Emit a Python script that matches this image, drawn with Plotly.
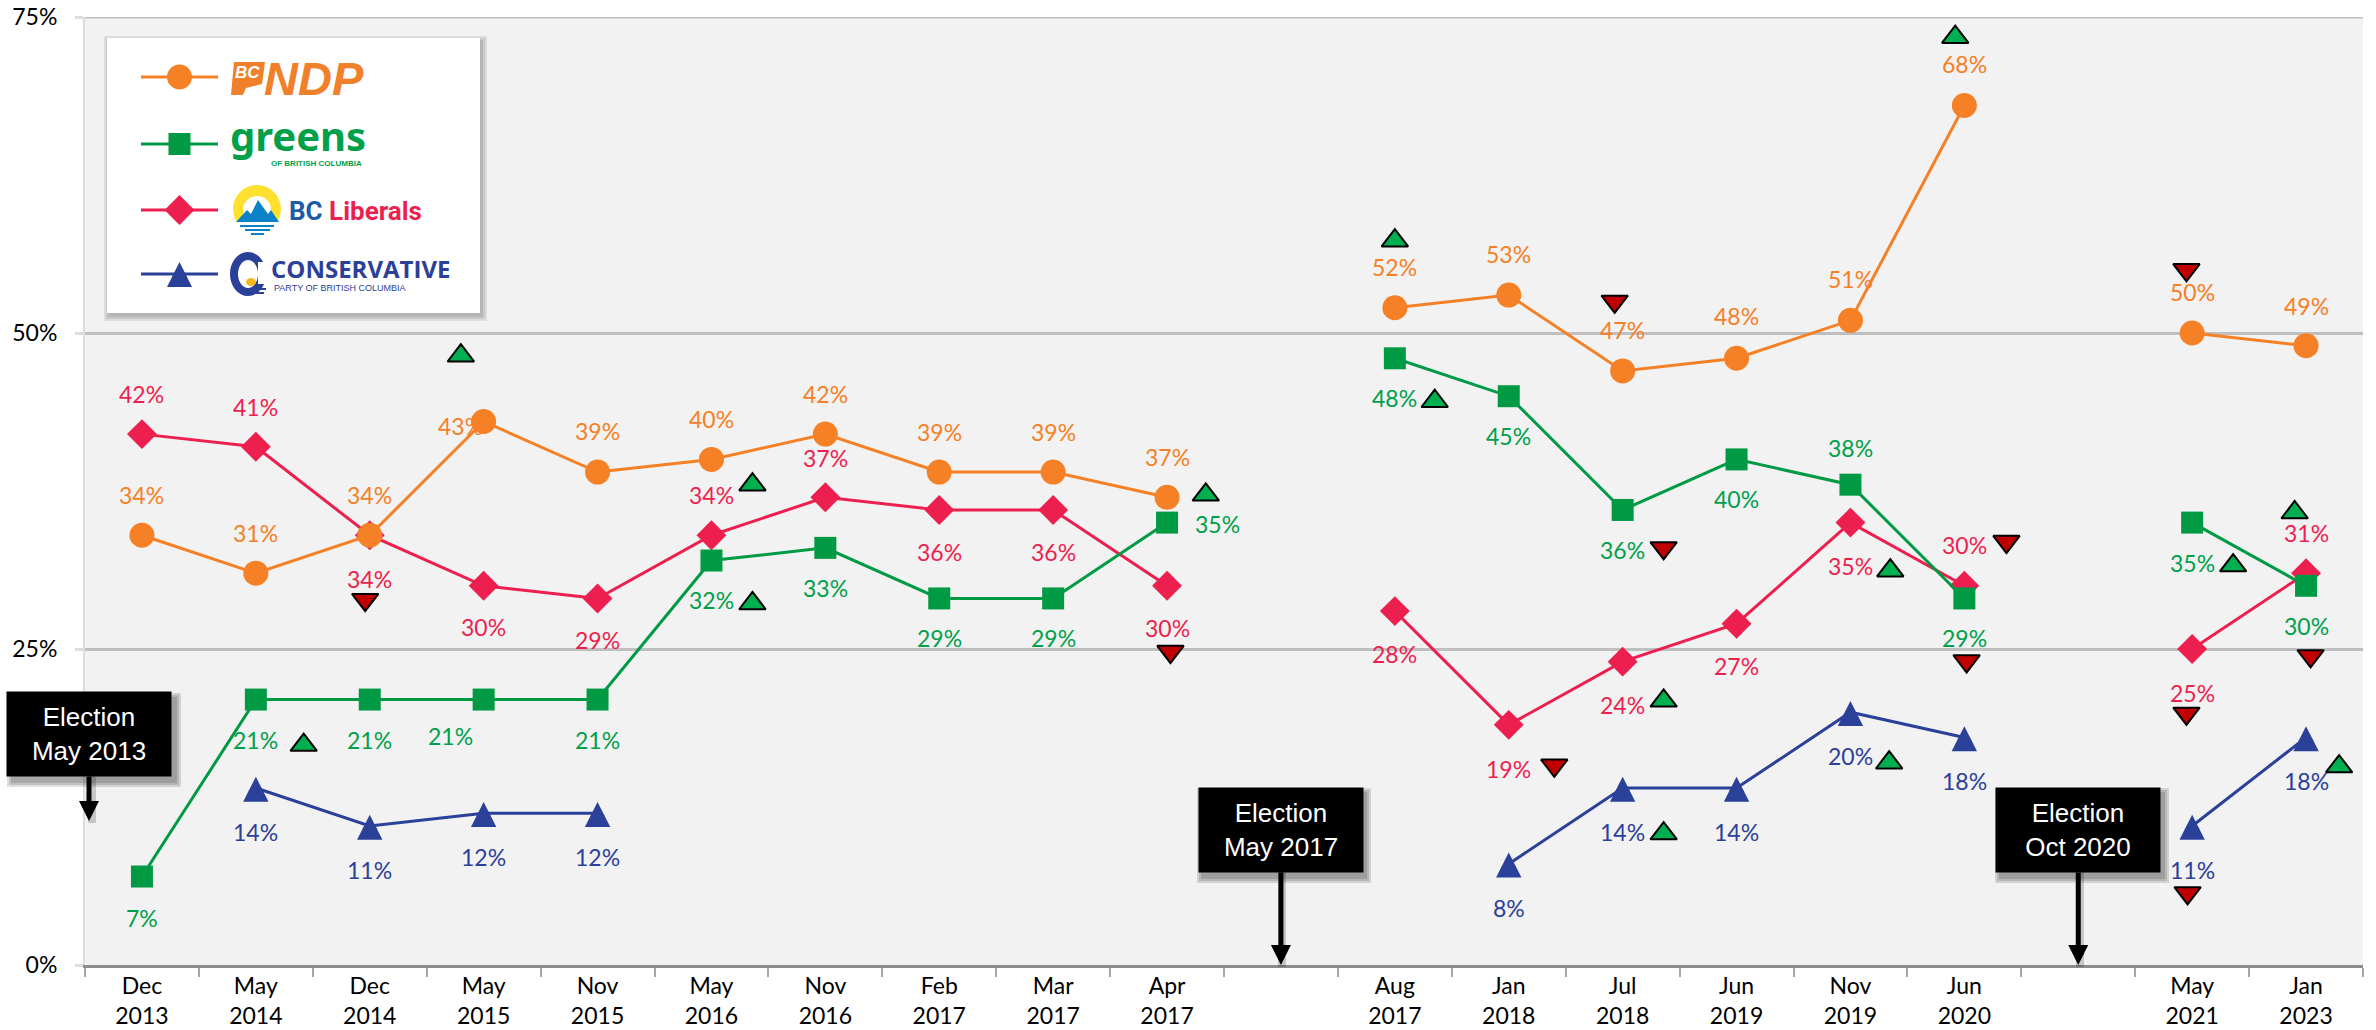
import plotly.graph_objects as go

# ---------- data ----------
categories = ["Dec<br>2013", "May<br>2014", "Dec<br>2014", "May<br>2015", "Nov<br>2015", "May<br>2016",
              "Nov<br>2016", "Feb<br>2017", "Mar<br>2017", "Apr<br>2017", "", "Aug<br>2017", "Jan<br>2018",
              "Jul<br>2018", "Jun<br>2019", "Nov<br>2019", "Jun<br>2020", "", "May<br>2021", "Jan<br>2023"]
ndp = [34, 31, 34, 43, 39, 40, 42, 39, 39, 37, None, 52, 53, 47, 48, 51, 68, None, 50, 49]
greens = [7, 21, 21, 21, 21, 32, 33, 29, 29, 35, None, 48, 45, 36, 40, 38, 29, None, 35, 30]
liberals = [42, 41, 34, 30, 29, 34, 37, 36, 36, 30, None, 28, 19, 24, 27, 35, 30, None, 25, 31]
conservative = [None, 14, 11, 12, 12, None, None, None, None, None, None, None, 8, 14, 14, 20, 18, None, 11, 18]

# label offsets from their point, in pixels
ndp_dx = [0, 0, 0, -23] + [0] * 16
ndp_dy = [40, 40, 40, -5, 41, 40, 40, 40, 40, 40, 0, 41, 41, 41, 42, 41, 41, 0, 41, 40]
greens_dx = [0, 0, 0, -33, 0, 0, 0, 0, 0, 50] + [0] * 10
greens_dy = [-41, -40, -40, -36, -40, -39, -40, -40, -40, -1, 0, -40, -40, -40, -40, 37, -40, 0, -40, -40]
liberals_dy = [40, 40, -44, -41, -42, 40, 39, -42, -42, -42, 0, -43, -44, -43, -42, -43, 41, 0, -44, 40]
conservative_dy = [-44] * 20

# poll-over-poll change indicators (category position, percent)
up_x = [1.42, 2.80, 5.36, 5.36, 9.34, 11.0, 11.35, 13.36, 15.35, 13.36, 15.34, 19.29, 15.92, 18.36, 18.90]
up_y = [17.4, 48.2, 38.0, 28.6, 37.2, 57.3, 44.6, 20.9, 31.2, 10.4, 16.0, 15.7, 73.4, 31.6, 35.8]
down_x = [1.96, 9.03, 12.93, 13.36, 12.40, 16.02, 16.37, 17.95, 17.95, 19.04, 17.96]
down_y = [28.9, 24.8, 52.5, 33.0, 15.8, 24.05, 33.5, 55.0, 19.9, 24.45, 5.7]

elections = ["Election<br>May 2013", "Election<br>May 2017", "Election<br>Oct 2020"]
election_x = [-0.465, 10, 17]
election_y = [11.4, 0, 0]
election_ay = [-87, -135, -135]

ORANGE, GREEN, RED, BLUE = "#F58026", "#009A44", "#ED1F4F", "#2B4098"
W, H, L, R, T, B = 2376, 1030, 85, 13, 17, 65
FONT = "Lato"
px = lambda X: (X - L) / (W - L - R)
py = lambda Y: (H - B - Y) / (H - T - B)
xs = list(range(len(categories)))

fig = go.Figure()
series = [
    ("Conservative Party of British Columbia", conservative, BLUE, "triangle-up", 13),
    ("BC Liberals", liberals, RED, "diamond", 23),
    ("Greens of British Columbia", greens, GREEN, "square", 22),
    ("BC NDP", ndp, ORANGE, "circle", 25),
]
for name, vals, col, sym, size in series:
    fig.add_trace(go.Scatter(x=xs, y=vals, mode="lines+markers", name=name, connectgaps=False, showlegend=False,
                             line=dict(color=col, width=3),
                             marker=dict(symbol=sym, size=size, color=col)))
fig.add_trace(go.Scatter(x=up_x, y=up_y, mode="markers", showlegend=False,
                         marker=dict(symbol="triangle-up", size=23, color="#00B050",
                                     line=dict(color="black", width=2))))
fig.add_trace(go.Scatter(x=down_x, y=down_y, mode="markers", showlegend=False,
                         marker=dict(symbol="triangle-down", size=23, color="#C00000",
                                     line=dict(color="black", width=2))))

# legend keys, drawn at full marker size on a hidden pixel-scaled overlay axis
key_y = [274, 210, 144, 77]
for (name, vals, col, sym, size), ky in zip(series, key_y):
    fig.add_trace(go.Scatter(x=[141, 179.5, 218], y=[ky, ky, ky], xaxis="x2", yaxis="y2", mode="lines+markers",
                             showlegend=False, name=name + " (key)", line=dict(color=col, width=3),
                             marker=dict(symbol=sym, size=[0, size, 0], color=col, opacity=1, line=dict(width=0))))

ann = []
def labels(vals, col, dxs, dys):
    for i, v in enumerate(vals):
        if v is None:
            continue
        ann.append(dict(x=i, y=v, xref="x", yref="y", text=f"{v}%", showarrow=False, xshift=dxs[i], yshift=dys[i],
                        xanchor="center", yanchor="middle", font=dict(family=FONT, size=23, color=col)))
labels(liberals, RED, [0] * 20, liberals_dy)
labels(conservative, BLUE, [0] * 20, conservative_dy)
labels(greens, "#00A04A", greens_dx, greens_dy)
labels(ndp, ORANGE, ndp_dx, ndp_dy)

# election callouts
for t, x, y, ay in zip(elections, election_x, election_y, election_ay):
    ann.append(dict(x=x, y=y, xref="x", yref="y", text=t, showarrow=True, ax=0, ay=ay, axref="pixel", ayref="pixel",
                    arrowhead=2, arrowsize=0.8, arrowwidth=5, arrowcolor="black", bgcolor="black", width=164, height=84,
                    borderpad=0, font=dict(family="Liberation Sans", size=26, color="white"), align="center"))

def logo_text(text, X, Y, size, color, family="Liberation Sans", anchor="left", **kw):
    ann.append(dict(x=px(X), y=py(Y), xref="paper", yref="paper", text=text, showarrow=False, xanchor=anchor,
                    yanchor="middle", font=dict(family=family, size=size, color=color), **kw))

logo_text("<b><i>NDP</i></b>", 262, 79, 47, "#F0802A")
logo_text("<b><i>BC</i></b>", 247, 72, 17, "white", anchor="center")
logo_text("<b>greens</b>", 228, 135, 40, "#00A04A", family="Noto Sans")
logo_text("<b>OF BRITISH COLUMBIA</b>", 316, 163, 8, "#00A04A", anchor="center")
logo_text("<b><span style='color:#1A5CA8'>BC</span> Liberals</b>", 287, 211, 26, RED, family="Roboto")
logo_text("<b>CONSERVATIVE</b>", 269, 268, 24, BLUE, family="Open Sans")
logo_text("PARTY OF BRITISH COLUMBIA", 272, 288, 9, BLUE)

# decorative panels and logo shapes
shapes = []
def rect(x0, y0, x1, y1, fill, layer="above"):
    shapes.append(dict(type="rect", xref="paper", yref="paper", x0=px(x0), x1=px(x1), y0=py(y0), y1=py(y1),
                       fillcolor=fill, line=dict(width=0), layer=layer))
def circle(x0, y0, x1, y1, fill, line=None, lw=0):
    shapes.append(dict(type="circle", xref="paper", yref="paper", x0=px(x0), x1=px(x1), y0=py(y0), y1=py(y1),
                       fillcolor=fill, line=dict(width=lw, color=line or fill), layer="above"))
def poly(points, fill=None, line=None, lw=0):
    path = "M" + " L".join(f"{px(a):.5f},{py(b):.5f}" for a, b in points)
    shapes.append(dict(type="path", xref="paper", yref="paper", path=path + (" Z" if fill else ""),
                       fillcolor=fill or "rgba(0,0,0,0)", line=dict(width=lw, color=line or "rgba(0,0,0,0)"), layer="above"))
def shadow(x0, y0, x1, y1, dx=5, dy=6, alpha=0.13, layer="above"):
    for g in (5, 3, 1):
        rect(x0 + dx - g, y0 + dy - g, x1 + dx + g, y1 + dy + g, f"rgba(0,0,0,{alpha})", layer=layer)

# top gridline, which sits on the end of the axis
shapes.append(dict(type="line", xref="paper", yref="y", x0=0, x1=1, y0=75, y1=75,
                   line=dict(color="#BFBFBF", width=3), layer="between"))

shadow(107, 38, 480, 313, dx=2, dy=3, alpha=0.09, layer="between")
rect(107, 38, 480, 313, "white", layer="between")
for x0, y0, x1, y1 in [(7, 692, 171, 776), (1197, 787, 1361, 872), (1995, 787, 2159, 872)]:
    shadow(x0, y0, x1, y1)
for x, y0, y1 in [(89, 776, 821), (1279, 872, 965), (2077, 872, 965)]:
    rect(x - 1, y0, x + 7, y1 + 2, "rgba(0,0,0,0.18)")

# taller triangle outline for the Conservative points, anchored to the data through the axes
for i, v in enumerate(conservative):
    if v is not None:
        shapes.append(dict(type="path", xref="x", yref="y", xsizemode="pixel", ysizemode="pixel", xanchor=i, yanchor=v,
                           path="M-12.7,-13.7 L12.7,-13.7 L0,11.3 Z", fillcolor=BLUE, line=dict(width=0), layer="above"))
poly([(167, 287), (192, 287), (179.5, 262)], fill=BLUE)

# NDP logo block
poly([(234, 62), (265, 62), (262, 84), (246, 88), (243, 95), (231, 95)], fill="#F0802A")
# BC Liberals logo
circle(233, 185, 281, 233, "#FFE02E")
circle(243, 196, 271, 224, "white")
poly([(236, 222), (247, 210), (251, 214), (258, 200), (268, 214), (271, 210), (279, 222)], fill="#0A82C8")
rect(233, 222, 281, 236, "white")
for y, a, b in [(226, 240, 274), (230, 245, 270), (234, 251, 264)]:
    poly([(a, y), (b, y)], line="#0A82C8", lw=2)
# Conservative logo
circle(234, 256, 262, 292, "rgba(0,0,0,0)", line=BLUE, lw=8)
rect(258, 262, 268, 284, "white")
circle(246, 278, 256, 286, "#F5B81F")
for y, a, b in [(289, 238, 266), (293, 242, 264)]:
    poly([(a, y), (b, y)], line=BLUE, lw=2)

fig.update_layout(
    width=W, height=H, margin=dict(l=L, r=R, t=T, b=B, pad=0), showlegend=False,
    paper_bgcolor="white", plot_bgcolor="#F2F2F2",
    font=dict(family=FONT, size=23, color="black"),
    annotations=ann, shapes=shapes, hovermode=False,
    xaxis=dict(range=[-0.5, 19.5], tickmode="array", tickvals=xs, ticktext=categories, ticks="", showgrid=False, automargin=False,
               zeroline=False, showline=True, linecolor="#8C8C8C", linewidth=3, tickangle=0, ticklabelstandoff=-2,
               tickfont=dict(family=FONT, size=23, color="black"),
               minor=dict(tickmode="array", tickvals=[i - 0.5 for i in range(21)], ticks="outside", ticklen=9,
                          tickwidth=2, tickcolor="#A6A6A6", showgrid=False)),
    yaxis=dict(range=[0, 75], tickmode="array", tickvals=[0, 25, 50, 75], ticktext=["0%", "25%", "50%", "75%"], automargin=False,
               ticks="outside", ticklen=8, tickwidth=3, tickcolor="#DDDDDD", ticklabelstandoff=13,
               showgrid=True, gridcolor="#BFBFBF", gridwidth=3, zeroline=False, showline=True, linecolor="#DDDDDD", linewidth=2,
               tickfont=dict(family=FONT, size=23, color="black")),
    xaxis2=dict(overlaying="x", range=[L, W - R], visible=False, automargin=False),
    yaxis2=dict(overlaying="y", range=[H - B, T], visible=False, automargin=False),
)
fig.write_html("out.html", config=dict(displayModeBar=False),
               post_script="document.body.style.margin='0';document.documentElement.style.overflow='hidden';")
